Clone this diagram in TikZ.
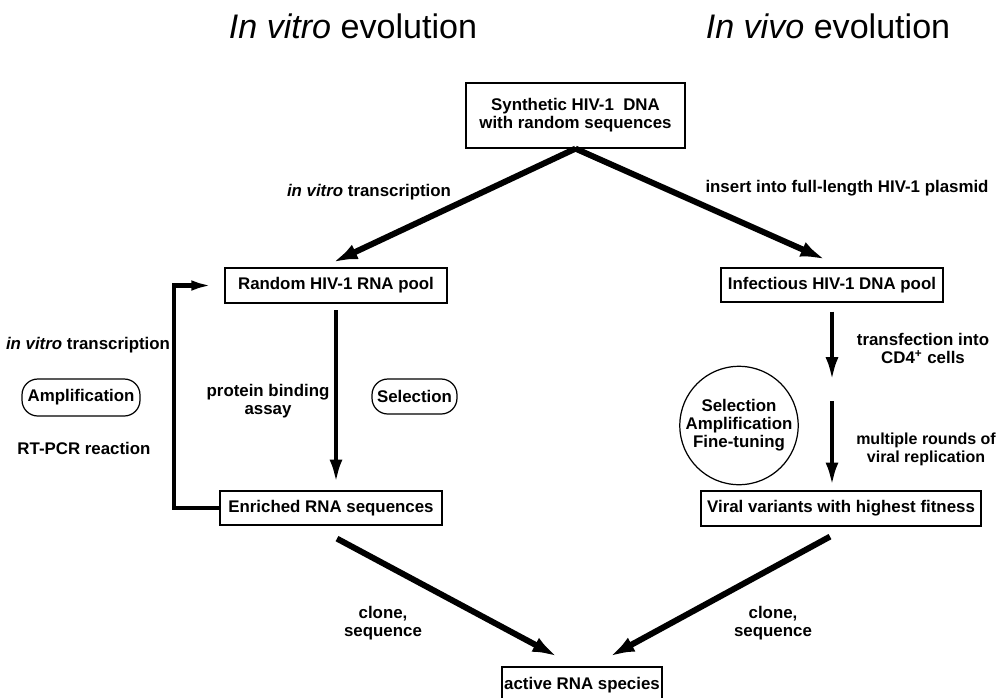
\documentclass[tikz,border=0pt]{standalone}
\usepackage{fontspec}
\setmainfont{Liberation Sans}
\usetikzlibrary{arrows.meta}
\newcommand{\lblfont}{\fontsize{9.6}{10.2}\selectfont\bfseries}
\newcommand{\ttlfont}{\fontsize{19.4}{23}\selectfont}
\tikzset{
stepbox/.style={draw, line width=0.7pt, inner sep=0pt, font=\lblfont, align=center},
roundbox/.style={draw, line width=0.7pt, rounded corners=9pt, inner sep=0pt, font=\lblfont},
note/.style={font=\lblfont, align=center, inner sep=0pt},
bigarrow/.style={line width=3.4pt, -{Latex[length=14pt,width=9pt]}},
varrow/.style={line width=2.3pt, -{Latex[length=13pt,width=7.4pt]}},
looparrow/.style={line width=2.3pt, -{Latex[length=12pt,width=6pt]}}
}
\begin{document}
\begin{tikzpicture}[x=0.02cm, y=-0.02cm]
  \useasboundingbox (0,0) rectangle (998,697);
  \node[anchor=base, font=\ttlfont] (ttlvitro) at (353,38) {\textit{In vitro} evolution};
  \node[anchor=base, font=\ttlfont] (ttlvivo) at (828,38) {\textit{In vivo} evolution};

  \node[stepbox, minimum width=4.38cm, minimum height=1.3cm] (top) at (575.5,115.5) {Synthetic HIV-1\ \ DNA\\with random sequences};
  \node[stepbox, minimum width=4.44cm, minimum height=0.7cm] (rnd) at (336,285.5) {Random HIV-1 RNA pool};
  \node[stepbox, minimum width=4.44cm, minimum height=0.68cm] (inf) at (832,285) {Infectious HIV-1 DNA pool};
  \node[stepbox, minimum width=4.44cm, minimum height=0.68cm] (enr) at (331,508) {Enriched RNA sequences};
  \node[stepbox, minimum width=5.6cm, minimum height=0.7cm] (vir) at (841,508.5) {Viral variants with highest fitness};
  \node[stepbox, minimum width=3.2cm, minimum height=0.74cm] (act) at (582,685.5) {active RNA species};

  \node[roundbox, minimum width=2.36cm, minimum height=0.74cm] (amp) at (81,397.5) {Amplification};
  \node[roundbox, minimum width=1.7cm, minimum height=0.7cm] (sel) at (414.5,396.5) {Selection};
  \node[draw, circle, line width=0.7pt, minimum size=2.16cm, inner sep=0pt, font=\lblfont, align=center] (saf) at (739,425.5) {Selection\\Amplification\\Fine-tuning};

  \node[note] (trvitro) at (369,192) {\textit{in vitro} transcription};
  \node[note] (insert) at (847,188) {insert into full-length HIV-1 plasmid};
  \node[note] (trloop) at (88,345) {\textit{in vitro} transcription};
  \node[note] (rtpcr) at (84,448) {RT-PCR reaction};
  \node[note] (prot) at (268,401) {protein binding\\assay};
  \node[note] (transf) at (923,348.5) {transfection into\\CD4\textsuperscript{+} cells};
  \node[note, font=\fontsize{9.1}{10.2}\selectfont\bfseries] (rounds) at (926,449) {multiple rounds of\\viral replication};
  \node[note] (clonel) at (383,623) {clone,\\sequence};
  \node[note] (cloner) at (773,623) {clone,\\sequence};

  \coordinate (gap) at (830,391);

  \draw[bigarrow] (top.south) -- ([xshift=-0.06cm,yshift=0.1cm]rnd.north);
  \draw[bigarrow] (top.south) -- ([xshift=-0.14cm,yshift=0.16cm]inf.north);
  \draw[varrow, shorten <=0.13cm, shorten >=0.16cm] (rnd.south) -- (rnd.south |- enr.north);
  \draw[looparrow] (enr.west) -- ++(-45,0) |- ([xshift=-0.24cm]rnd.west);
  \draw[varrow, shorten <=0.18cm, shorten >=0.22cm] (inf.south) -- (inf.south |- gap);
  \draw[varrow, shorten <=0.2cm, shorten >=0.1cm] (inf.south |- gap) -- (inf.south |- vir.north);
  \draw[bigarrow] ([xshift=0.12cm,yshift=-0.26cm]enr.south) -- ([xshift=-0.5cm,yshift=0.2cm]act.north);
  \draw[bigarrow] ([xshift=-0.22cm,yshift=-0.2cm]vir.south) -- ([xshift=0.56cm,yshift=0.2cm]act.north);
\end{tikzpicture}
\end{document}
